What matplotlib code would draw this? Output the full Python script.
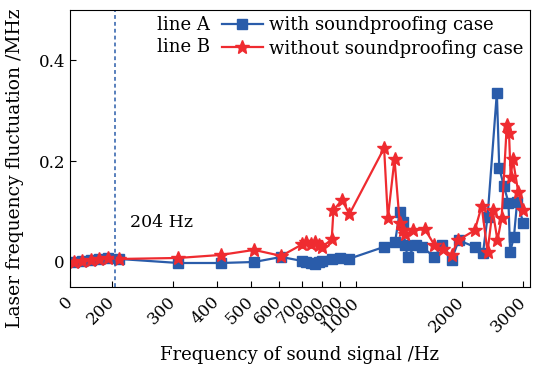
import matplotlib.pyplot as plt
import numpy as np

# --- data ---
freq_a = [20, 60, 100, 140, 180, 210, 310, 410, 510, 610,
          700, 720, 740, 760, 780, 800, 850, 900, 950,
          1200, 1290, 1330, 1355, 1380, 1400, 1480, 1540, 1670, 1760, 1870, 1960,
          2180, 2300, 2370, 2520, 2560, 2640, 2720, 2750, 2820, 2880, 3000]
fluct_a = [0.0, 0.002, 0.004, 0.006, 0.008, 0.006, -0.002, -0.002, 0.0, 0.01,
           0.002, 0.0, -0.002, -0.003, 0.0, 0.002, 0.005, 0.008, 0.006,
           0.03, 0.04, 0.099, 0.079, 0.034, 0.01, 0.034, 0.03, 0.01, 0.034, 0.004, 0.043,
           0.03, 0.018, 0.089, 0.336, 0.187, 0.15, 0.118, 0.02, 0.05, 0.12, 0.077]

freq_b = [20, 60, 100, 140, 180, 210, 310, 410, 510, 610,
          700, 720, 740, 760, 780, 800, 850, 860, 910, 955,
          1200, 1230, 1285, 1330, 1360, 1380, 1450, 1570, 1670, 1770, 1870, 1950,
          2180, 2280, 2370, 2450, 2530, 2600, 2690, 2730, 2760, 2800, 2900, 3000]
fluct_b = [0.0, 0.002, 0.004, 0.006, 0.008, 0.006, 0.008, 0.014, 0.024, 0.012,
           0.035, 0.04, 0.036, 0.04, 0.033, 0.03, 0.045, 0.103, 0.123, 0.095,
           0.226, 0.087, 0.204, 0.077, 0.063, 0.055, 0.063, 0.065, 0.034, 0.025, 0.014, 0.043,
           0.063, 0.111, 0.02, 0.103, 0.043, 0.087, 0.271, 0.255, 0.168, 0.204, 0.139, 0.103]

xticks = [0, 200, 300, 400, 500, 600, 700, 800, 900, 1000, 2000, 3000]
yticks = [0, 0.2, 0.4]

BLUE = '#2a5caa'
RED = '#ef2b30'
LIN_SPAN = 0.12  # decades used by the linear 0..200 Hz part


def fwd(x):
    x = np.asarray(x, dtype=float)
    return np.where(x < 200, np.log10(200) - LIN_SPAN * (200 - x) / 200,
                    np.log10(np.maximum(x, 200)))


def inv(y):
    y = np.asarray(y, dtype=float)
    return np.where(y < np.log10(200), 200 - (np.log10(200) - y) / LIN_SPAN * 200,
                    10 ** np.maximum(y, np.log10(200)))


plt.rcParams['font.family'] = 'DejaVu Serif'

fig = plt.figure(figsize=(5.33, 3.72), dpi=100)
ax = fig.add_axes([0.131, 0.228, 0.863, 0.745])
ax.set_xscale('function', functions=(fwd, inv))

ax.plot(freq_a, fluct_a, '-s', color=BLUE, lw=1.6, ms=7, label='with soundproofing case')
ax.plot(freq_b, fluct_b, '-*', color=RED, lw=1.6, ms=10.5, label='without soundproofing case')
ax.axvline(204, color=BLUE, lw=1.1, ls=(0, (2.5, 2)))
ax.text(225, 0.079, '204 Hz', fontsize=12.5, va='center')

ax.set_xlim(0, 3130)
ax.set_ylim(-0.05, 0.5)
ax.set_xticks(xticks)
ax.set_xticklabels([str(t) for t in xticks], rotation=45, ha='right', va='center',
                   rotation_mode='anchor')
ax.set_yticks(yticks)
ax.set_yticklabels(['0', '0.2', '0.4'])
ax.minorticks_off()
ax.tick_params(direction='in', labelsize=12, length=4)
ax.tick_params(axis='x', pad=9)

ax.set_xlabel('Frequency of sound signal /Hz', fontsize=13)
ax.set_ylabel('Laser frequency fluctuation /MHz', fontsize=13.5)
ax.yaxis.set_label_coords(-0.1, 0.43)
ax.xaxis.set_label_coords(0.5, -0.213)

ax.legend(loc='upper left', bbox_to_anchor=(0.33, 0.978), frameon=False,
          fontsize=13, handlelength=2.3, handletextpad=0.35, labelspacing=0.3,
          borderaxespad=0, borderpad=0)
ax.text(0.19, 0.945, 'line A', transform=ax.transAxes, fontsize=13, va='center')
ax.text(0.19, 0.868, 'line B', transform=ax.transAxes, fontsize=13, va='center')

fig.savefig('out.png', dpi=100)
